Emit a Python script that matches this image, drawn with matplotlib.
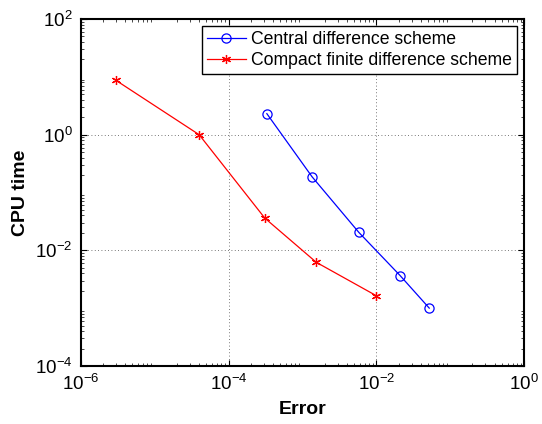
import matplotlib
matplotlib.use('Agg')
import matplotlib.pyplot as plt
import numpy as np

plt.rcParams['font.family'] = ['Liberation Sans', 'DejaVu Sans']
plt.rcParams['mathtext.fontset'] = 'custom'
plt.rcParams['mathtext.rm'] = 'Liberation Sans'
plt.rcParams['mathtext.default'] = 'regular'

central_err = [3.3e-4, 1.35e-3, 5.8e-3, 2.1e-2, 5.2e-2]
central_cpu = [2.31, 0.187, 0.0204, 3.65e-3, 1.0e-3]
compact_err = [3.0e-6, 4.0e-5, 3.1e-4, 1.54e-3, 9.9e-3]
compact_cpu = [8.7, 1.0, 0.036, 6.2e-3, 1.65e-3]

fig = plt.figure(figsize=(5.42, 4.24), dpi=100)
ax = fig.add_axes([0.149, 0.137, 0.818, 0.818])

ax.loglog(central_err, central_cpu, color='blue', lw=0.9, marker='o',
          markersize=6.6, markerfacecolor='none', markeredgewidth=0.9,
          label='Central difference scheme')
ax.loglog(compact_err, compact_cpu, color='red', lw=0.9, marker=(6, 2, 0),
          markersize=6.5, markeredgewidth=0.9,
          label='Compact finite difference scheme')

ax.set_xlim(1e-6, 1e0)
ax.set_ylim(1e-4, 1e2)
ax.set_xticks([1e-6, 1e-4, 1e-2, 1e0])
ax.set_yticks([1e-4, 1e-2, 1e0, 1e2])

ax.grid(True, which='major', linestyle=(0, (1, 3)), color='black', lw=0.6, alpha=0.7)
ax.tick_params(which='both', direction='in', top=True, right=True, labelsize=13.5)
ax.tick_params(which='major', length=4, width=0.8, pad=6)
ax.tick_params(which='minor', length=2, width=0.5)
for s in ax.spines.values():
    s.set_linewidth(1.5)

ax.set_xlabel('Error', fontsize=14, fontweight='bold', labelpad=5)
ax.set_ylabel('CPU time', fontsize=14, fontweight='bold', labelpad=4)

leg = ax.legend(loc='upper right', fontsize=12.7, fancybox=False, edgecolor='black',
                framealpha=1, borderpad=0.3, labelspacing=0.2, handlelength=2.2,
                handletextpad=0.3, borderaxespad=0.4)
leg.get_frame().set_linewidth(1.0)

fig.savefig('out.png', dpi=100)
